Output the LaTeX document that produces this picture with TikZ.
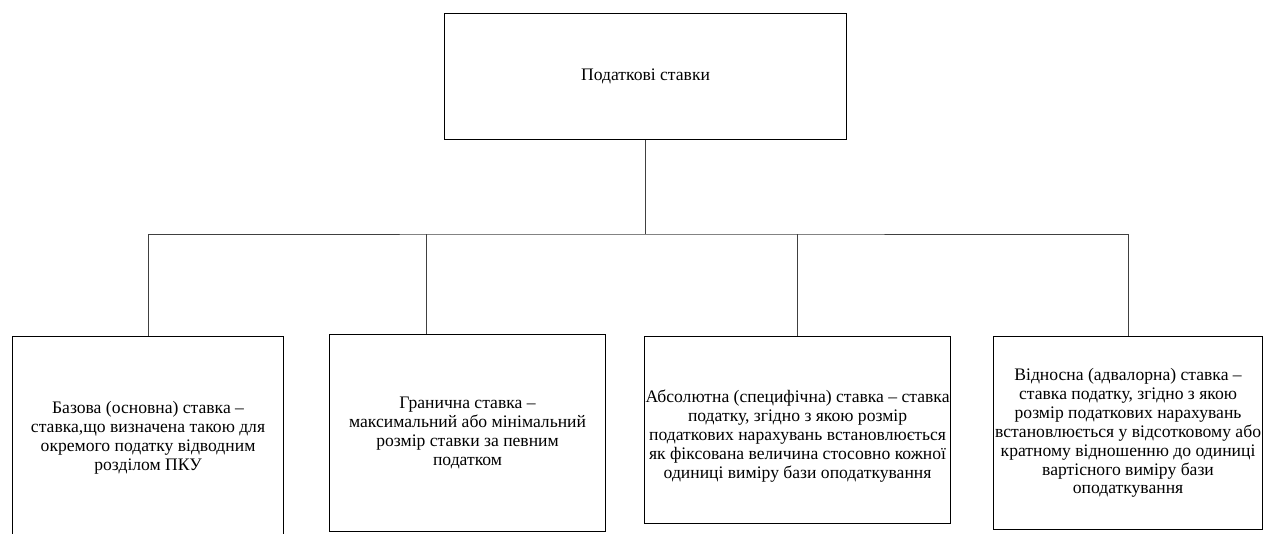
\documentclass[tikz,border=0pt]{standalone}
\usepackage{fontspec}
\setmainfont{Liberation Serif}
\tikzset{
  ratebox/.style={draw, line width=1.1pt, rectangle, anchor=north west, align=center, inner sep=0.75pt, font=\fontsize{17.6}{18.9}\selectfont},
  link/.style={draw=black!75, line width=0.9pt}
}
\begin{document}
\begin{tikzpicture}[x=1pt,y=1pt,yscale=-1,xscale=1]
\useasboundingbox (0,0) rectangle (1264,533);

% Top box
\node (top) [ratebox, minimum width=402pt, minimum height=126pt] at (444,13) {Податкові ставки};

% Bottom boxes
\node (b1) [ratebox, minimum width=271pt, minimum height=203pt] at (12,336) {Базова (основна) ставка –\\
ставка,що визначена такою для\\
окремого податку відводним\\
розділом ПКУ};
\node (b2) [ratebox, minimum width=276pt, minimum height=197pt] at (329,334) {Гранична ставка –\\
максимальний або мінімальний\\
розмір ставки за певним\\
податком};
\node (b3) [ratebox, minimum width=306pt, minimum height=187pt] at (644,336) {\rule{0pt}{25pt}Абсолютна (специфічна) ставка – ставка\\
податку, згідно з якою розмір\\
податкових нарахувань встановлюється\\
як фіксована величина стосовно кожної\\
одиниці виміру бази оподаткування};
\node (b4) [ratebox, minimum width=269pt, minimum height=193pt] at (993,336) {Відносна (адвалорна) ставка –\\
ставка податку, згідно з якою\\
розмір податкових нарахувань\\
встановлюється у відсотковому або\\
кратному відношенню до одиниці\\
вартісного виміру бази\\
оподаткування};

% Connectors
\coordinate (bus) at (top.south |- 0,234);
\coordinate (j2) at (426,234);
\draw [link] (top.south) -- (bus);
\draw [link] (b1.north) |- (bus) -| (b4.north);
\draw [link] (j2) -- (j2 |- b2.north);
\draw [link] (b3.north) -- (b3.north |- bus);
\end{tikzpicture}
\end{document}
